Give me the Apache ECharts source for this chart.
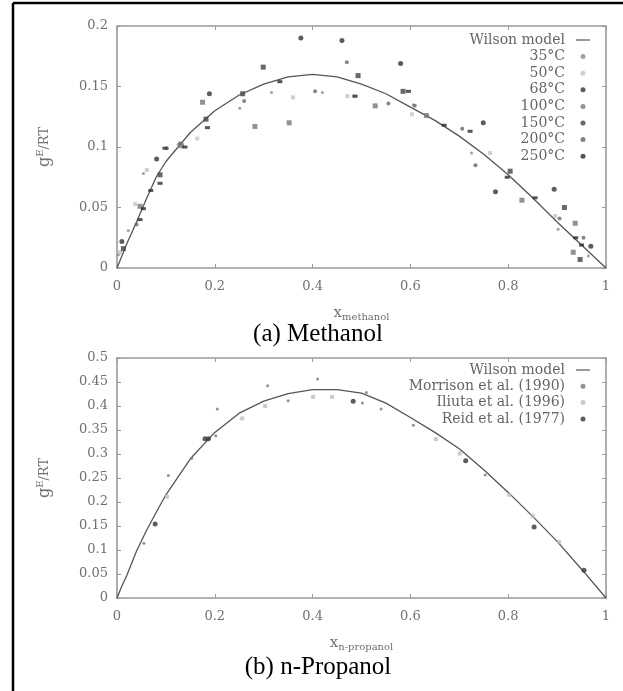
<!DOCTYPE html>
<html>
<head>
<meta charset="utf-8">
<script src="https://cdn.jsdelivr.net/npm/echarts@6/dist/echarts.min.js"></script>
<style>html,body{margin:0;padding:0;background:#fff}#c{width:623px;height:691px}</style>
</head>
<body>
<div id="c"></div>
<script>
// ---------- DATA ----------
const methanolLegend = ['Wilson model','35°C','50°C','68°C','100°C','150°C','200°C','250°C'];
const propanolLegend = ['Wilson model','Morrison et al. (1990)','Iliuta et al. (1996)','Reid et al. (1977)'];

const wilsonMethanol = [[0,0],[0.01,0.01],[0.02,0.02],[0.04,0.038],[0.06,0.057],[0.08,0.075],[0.1,0.088],[0.15,0.112],[0.2,0.13],[0.25,0.143],[0.3,0.152],[0.35,0.158],[0.4,0.16],[0.45,0.158],[0.5,0.152],[0.55,0.144],[0.6,0.133],[0.65,0.122],[0.7,0.109],[0.75,0.094],[0.8,0.077],[0.85,0.058],[0.9,0.038],[0.95,0.019],[1,0]];

const m35 = [[0.003,0.011],[0.023,0.031],[0.054,0.078],[0.125,0.102],[0.251,0.132],[0.316,0.145],[0.42,0.145],[0.606,0.135],[0.725,0.095],[0.902,0.032],[0.964,0.01]];
const m50 = [[0.006,0.013],[0.037,0.053],[0.061,0.081],[0.164,0.107],[0.36,0.141],[0.471,0.142],[0.484,0.142],[0.603,0.127],[0.763,0.095],[0.896,0.043]];
const m68 = [[0.01,0.022],[0.081,0.09],[0.189,0.144],[0.376,0.19],[0.46,0.188],[0.58,0.169],[0.749,0.12],[0.774,0.063],[0.894,0.065],[0.969,0.018]];
const m100 = [[0.047,0.051],[0.132,0.101],[0.175,0.137],[0.282,0.117],[0.352,0.12],[0.528,0.134],[0.633,0.126],[0.828,0.056],[0.937,0.037],[0.933,0.013]];
const m150 = [[0.013,0.016],[0.088,0.077],[0.182,0.123],[0.257,0.144],[0.299,0.166],[0.493,0.159],[0.585,0.146],[0.804,0.08],[0.915,0.05],[0.947,0.007]];
const m200 = [[0.04,0.036],[0.102,0.099],[0.129,0.103],[0.26,0.138],[0.405,0.146],[0.47,0.17],[0.555,0.136],[0.609,0.134],[0.706,0.115],[0.733,0.085],[0.905,0.041],[0.954,0.025]];
const m250 = [[0.047,0.04],[0.054,0.049],[0.069,0.064],[0.088,0.07],[0.098,0.099],[0.139,0.1],[0.185,0.116],[0.333,0.154],[0.487,0.142],[0.596,0.146],[0.669,0.118],[0.722,0.113],[0.798,0.075],[0.855,0.058],[0.938,0.025],[0.95,0.019]];

const wilsonPropanol = [[0,0],[0.01,0.025],[0.02,0.047],[0.04,0.098],[0.06,0.14],[0.08,0.178],[0.1,0.215],[0.15,0.29],[0.2,0.345],[0.25,0.385],[0.3,0.41],[0.35,0.426],[0.4,0.434],[0.45,0.434],[0.5,0.427],[0.55,0.406],[0.6,0.376],[0.65,0.345],[0.7,0.311],[0.75,0.267],[0.8,0.22],[0.85,0.17],[0.9,0.118],[0.95,0.06],[1,0]];
const morrison = [[0.055,0.114],[0.105,0.255],[0.153,0.291],[0.202,0.338],[0.205,0.394],[0.308,0.442],[0.35,0.411],[0.41,0.456],[0.502,0.406],[0.51,0.428],[0.54,0.394],[0.606,0.36],[0.753,0.256]];
const iliuta = [[0.102,0.211],[0.256,0.374],[0.303,0.4],[0.401,0.419],[0.44,0.419],[0.652,0.331],[0.701,0.301],[0.802,0.215],[0.85,0.171],[0.904,0.117]];
const reid = [[0.078,0.154],[0.18,0.332],[0.187,0.332],[0.483,0.41],[0.713,0.286],[0.853,0.148],[0.955,0.058]];

// ---------- CHART ----------
const chart = echarts.init(document.getElementById('c'), null, {renderer:'canvas'});
const serif = 'DejaVu Serif';
const axisCol = '#9a9a9a';
const lblCol = '#707070';

function xAx(grid, pos, show, nm) {
  return {
    type:'value', gridIndex:grid, position:pos, min:0, max:1, interval:0.2,
    axisLine:{show:true, onZero:false, lineStyle:{color:axisCol, width:1.6}},
    axisTick:{show:true, inside:true, length:4, lineStyle:{color:axisCol}},
    axisLabel:{show:show, margin:12, color:lblCol, fontFamily:serif, fontSize:13},
    splitLine:{show:false},
    name: nm || '', nameLocation:'middle', nameGap:36,
    nameTextStyle:{rich:{
      b:{fontFamily:serif, fontSize:15, color:lblCol},
      s:{fontFamily:serif, fontSize:10, color:lblCol, padding:[8,0,0,0]}
    }}
  };
}
function yAx(grid, pos, show, max) {
  return {
    type:'value', gridIndex:grid, position:pos, min:0, max:max, interval:0.05,
    axisLine:{show:true, onZero:false, lineStyle:{color:axisCol, width:1.6}},
    axisTick:{show:true, inside:true, length:4, lineStyle:{color:axisCol}},
    axisLabel:{show:show, margin:9, color:lblCol, fontFamily:serif, fontSize:13},
    splitLine:{show:false}
  };
}

function scatter(name, data, xi, yi, sym, size, col) {
  return {type:'scatter', name:name, data:data, xAxisIndex:xi, yAxisIndex:yi,
    symbol:sym, symbolSize:size, itemStyle:{color:col}, z:3};
}
function line(data, xi, yi) {
  return {type:'line', name:'Wilson model', data:data, xAxisIndex:xi, yAxisIndex:yi,
    symbol:'none', smooth:false, lineStyle:{color:'#555', width:1.3}, itemStyle:{color:'#555'}, z:2};
}
function legendData(names) {
  return names.map(n => n === 'Wilson model'
    ? {name:n, icon:'path://M0,0L28,0L28,2.4L0,2.4Z', itemStyle:{color:'#555'}}
    : {name:n, icon:'circle'});
}

const legendText = {fontFamily:serif, fontSize:14, color:'#666', lineHeight:14, padding:[0,6,0,0]};

const option = {
  animation:false,
  backgroundColor:'#fff',
  grid:[
    {left:117, top:26, width:489, height:242},
    {left:117, top:358, width:489, height:240}
  ],
  xAxis:[
    xAx(0,'bottom',true,'{b|x}{s|methanol}'),
    xAx(0,'top',false),
    xAx(1,'bottom',true,'{b|x}{s|n-propanol}'),
    xAx(1,'top',false)
  ],
  yAxis:[
    yAx(0,'left',true,0.2),
    yAx(0,'right',false,0.2),
    yAx(1,'left',true,0.5),
    yAx(1,'right',false,0.5)
  ],
  legend:[
    {data:legendData(methanolLegend), orient:'vertical', right:33, top:33, align:'right',
     itemWidth:14, itemHeight:5, itemGap:2.6, textStyle:legendText, selectedMode:false, padding:0},
    {data:legendData(propanolLegend), orient:'vertical', right:33, top:363, align:'right',
     itemWidth:14, itemHeight:5, itemGap:2.3, textStyle:legendText, selectedMode:false, padding:0}
  ],
  series:[
    line(wilsonMethanol,0,0),
    scatter('35°C', m35,0,0,'circle',3,'#8a8a8a'),
    scatter('50°C', m50,0,0,'rect',4,'#c4c4c4'),
    scatter('68°C', m68,0,0,'circle',5,'#333'),
    scatter('100°C', m100,0,0,'rect',5,'#777'),
    scatter('150°C', m150,0,0,'rect',5,'#444'),
    scatter('200°C', m200,0,0,'circle',4,'#666'),
    scatter('250°C', m250,0,0,'rect',[5,3],'#2a2a2a'),
    line(wilsonPropanol,2,2),
    scatter('Morrison et al. (1990)', morrison,2,2,'circle',3,'#777'),
    scatter('Iliuta et al. (1996)', iliuta,2,2,'rect',4,'#bdbdbd'),
    scatter('Reid et al. (1977)', reid,2,2,'circle',5,'#333')
  ],
  graphic:[
    {type:'line', shape:{x1:13, y1:3, x2:623, y2:3}, style:{stroke:'#000', lineWidth:2.5}},
    {type:'line', shape:{x1:13, y1:3, x2:13, y2:691}, style:{stroke:'#000', lineWidth:2.5}},
    {type:'text', x:45, y:147, rotation:Math.PI/2, style:{
      text:'{g|g}{s|E}{r|/RT}', align:'center', verticalAlign:'middle',
      rich:{g:{fontFamily:serif, fontSize:16, fill:lblCol},
            s:{fontFamily:serif, fontSize:10, fill:lblCol, padding:[0,0,10,0]},
            r:{fontFamily:serif, fontSize:13, fill:lblCol}}}},
    {type:'text', x:45, y:478, rotation:Math.PI/2, style:{
      text:'{g|g}{s|E}{r|/RT}', align:'center', verticalAlign:'middle',
      rich:{g:{fontFamily:serif, fontSize:16, fill:lblCol},
            s:{fontFamily:serif, fontSize:10, fill:lblCol, padding:[0,0,10,0]},
            r:{fontFamily:serif, fontSize:13, fill:lblCol}}}},
    {type:'text', x:318, y:334, style:{text:'(a) Methanol', font:'25px "Liberation Serif"', fill:'#000', align:'center', verticalAlign:'middle'}},
    {type:'text', x:318, y:667, style:{text:'(b) n-Propanol', font:'25px "Liberation Serif"', fill:'#000', align:'center', verticalAlign:'middle'}}
  ]
};
chart.setOption(option);
</script>
</body>
</html>
